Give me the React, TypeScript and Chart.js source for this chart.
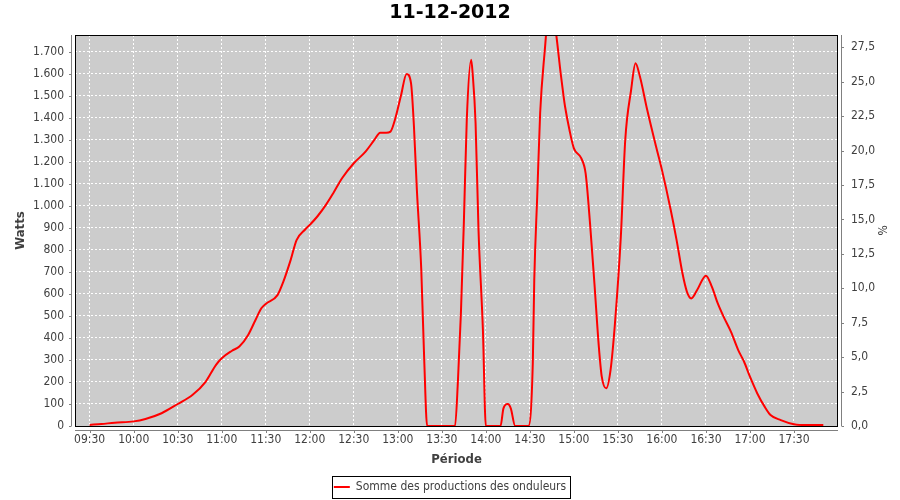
import React, { useEffect, useRef } from 'react';
import { Chart, registerables } from 'chart.js';

Chart.register(...registerables);

const TITLE = '11-12-2012';
const SERIES_LABEL = 'Somme des productions des onduleurs';
const X_TITLE = 'Période';
const Y_TITLE = 'Watts';
const Y2_TITLE = '%';

const times = [
  '09:30', '09:38', '09:47', '10:00', '10:08', '10:19', '10:30', '10:40', '10:49', '10:56',
  '11:00', '11:07', '11:12', '11:18', '11:23', '11:27', '11:30', '11:38', '11:42', '11:47',
  '11:51', '11:57', '12:00', '12:05', '12:11', '12:16', '12:22', '12:30', '12:38', '12:44',
  '12:48', '12:52', '12:55', '12:58', '13:02', '13:06', '13:09', '13:11', '13:13', '13:16',
  '13:18', '13:20', '13:39', '13:41', '13:43', '13:45', '13:47', '13:50', '13:51', '13:53',
  '13:55', '13:58', '14:00', '14:10', '14:12', '14:15', '14:17', '14:20', '14:29', '14:32',
  '14:33', '14:35', '14:37', '14:40', '14:44', '14:48', '14:51', '14:53', '14:54', '14:57',
  '15:00', '15:05', '15:08', '15:11', '15:14', '15:17', '15:19', '15:22', '15:25', '15:28',
  '15:32', '15:35', '15:39', '15:42', '15:45', '15:50', '15:56', '16:00', '16:06', '16:10',
  '16:14', '16:17', '16:20', '16:24', '16:30', '16:34', '16:38', '16:42', '16:47', '16:52',
  '16:56', '17:00', '17:05', '17:10', '17:14', '17:21', '17:30', '17:39', '17:50',
];

const watts = [
  5, 9, 15, 21, 32, 58, 100, 141, 201, 277,
  308, 342, 361, 414, 482, 535, 555, 595, 656, 755,
  845, 894, 914, 951, 1005, 1058, 1126, 1194, 1247, 1300,
  1333, 1333, 1338, 1391, 1497, 1600, 1558, 1361, 1073, 709,
  300, 0, 0, 209, 512, 921, 1391, 1664, 1603, 1376,
  891, 436, 0, 0, 80, 100, 80, 0, 0, 285,
  664, 1042, 1421, 1694, 1950, 1777, 1603, 1497, 1451, 1345,
  1262, 1217, 1148, 921, 648, 361, 224, 171, 255, 467,
  861, 1300, 1527, 1649, 1588, 1436, 1270, 1164, 982, 845,
  694, 611, 580, 618, 683, 633, 558, 497, 429, 345,
  292, 224, 148, 88, 50, 27, 8, 4, 4,
];

const xTickLabels = [
  '09:30', '10:00', '10:30', '11:00', '11:30', '12:00', '12:30', '13:00', '13:30',
  '14:00', '14:30', '15:00', '15:30', '16:00', '16:30', '17:00', '17:30',
];

const X_MIN = '09:20';
const X_MAX = '18:00';
const WATTS_MAX = 1777;
const WATTS_STEP = 100;
const PERCENT_MAX = 28.39;
const PERCENT_STEP = 2.5;

const SANS = "'DejaVu Sans Condensed', 'DejaVu Sans', sans-serif";
const TEXT = '#404040';

const toMin = (s: string) => {
  const [h, m] = s.split(':').map(Number);
  return h * 60 + m;
};
const fmtTime = (v: number) => {
  const h = Math.floor(v / 60);
  const m = Math.round(v % 60);
  return `${String(h).padStart(2, '0')}:${String(m).padStart(2, '0')}`;
};
const fmtWatts = (v: number) => {
  const n = Math.round(v);
  if (n >= 1000) return `${Math.floor(n / 1000)}.${String(n % 1000).padStart(3, '0')}`;
  return String(n);
};
const fmtPercent = (v: number) => v.toFixed(1).replace('.', ',');

const chromePlugin = {
  id: 'chrome',
  beforeDraw(chart: any) {
    const { ctx, chartArea: a } = chart;
    ctx.save();
    ctx.fillStyle = '#ffffff';
    ctx.fillRect(0, 0, chart.width, chart.height);
    ctx.fillStyle = '#cccccc';
    ctx.fillRect(a.left, a.top, a.right - a.left, a.bottom - a.top);
    ctx.restore();
  },
  afterDraw(chart: any) {
    const { ctx, chartArea: a, scales } = chart;
    const L = Math.round(a.left);
    const R = Math.round(a.right);
    const T = Math.round(a.top);
    const B = Math.round(a.bottom);
    ctx.save();
    ctx.lineWidth = 1;
    ctx.strokeStyle = '#808080';
    ctx.beginPath();
    const by = B + 4.5;
    ctx.moveTo(L, by);
    ctx.lineTo(R, by);
    scales.x.ticks.forEach((t: any) => {
      const px = Math.round(scales.x.getPixelForValue(t.value)) + 0.5;
      ctx.moveTo(px, by);
      ctx.lineTo(px, by + 2.5);
    });
    const lx = L - 3.5;
    ctx.moveTo(lx, T);
    ctx.lineTo(lx, B);
    scales.y.ticks.forEach((t: any) => {
      const py = Math.round(scales.y.getPixelForValue(t.value)) + 0.5;
      ctx.moveTo(lx - 2.5, py);
      ctx.lineTo(lx, py);
    });
    const rx = R + 3.5;
    ctx.moveTo(rx, T);
    ctx.lineTo(rx, B);
    scales.y1.ticks.forEach((t: any) => {
      const py = Math.round(scales.y1.getPixelForValue(t.value)) + 0.5;
      ctx.moveTo(rx, py);
      ctx.lineTo(rx + 2.5, py);
    });
    ctx.stroke();

    ctx.strokeStyle = '#000000';
    ctx.strokeRect(L + 0.5, T + 0.5, R - L - 1, B - T);

    const hb = chart.legend && chart.legend.legendHitBoxes && chart.legend.legendHitBoxes[0];
    if (hb) {
      ctx.strokeRect(
        Math.round(hb.left - 2) + 0.5,
        Math.round(hb.top - 5) + 0.5,
        Math.round(hb.width + 6),
        Math.round(hb.height + 10)
      );
    }
    ctx.restore();
  },
};

export default function App() {
  const ref = useRef<HTMLCanvasElement>(null);

  useEffect(() => {
    document.body.style.margin = '0';
    const canvas = ref.current;
    if (!canvas) return;
    const chart = new Chart(canvas, {
      type: 'line',
      data: {
        datasets: [
          {
            label: SERIES_LABEL,
            data: times.map((t, i) => ({ x: toMin(t), y: watts[i] })),
            borderColor: '#ff0000',
            backgroundColor: '#ff0000',
            borderWidth: 2,
            pointRadius: 0,
            cubicInterpolationMode: 'monotone',
            clip: 0,
            yAxisID: 'y',
          } as any,
        ],
      },
      options: {
        responsive: false,
        animation: false,
        devicePixelRatio: 1,
        layout: { padding: { left: 0, right: 0, top: 0, bottom: -3 } },
        plugins: {
          title: {
            display: true,
            text: TITLE,
            color: '#000000',
            font: { family: 'DejaVu Sans', weight: 'bold', size: 19 },
            padding: { top: 2, bottom: 10.2 },
          },
          legend: {
            position: 'bottom',
            labels: {
              usePointStyle: true,
              pointStyle: 'line',
              pointStyleWidth: 16,
              padding: 6,
              color: TEXT,
              font: { family: SANS, size: 12 },
            },
          },
          tooltip: { enabled: false },
        },
        scales: {
          x: {
            type: 'linear',
            min: toMin(X_MIN),
            max: toMin(X_MAX),
            afterBuildTicks: (s: any) => {
              s.ticks = xTickLabels.map((l) => ({ value: toMin(l) }));
            },
            afterFit: (s: any) => {
              s.height = 49;
            },
            ticks: {
              callback: (v: any) => fmtTime(Number(v)),
              padding: 7,
              color: TEXT,
              font: { family: SANS, size: 12 },
              maxRotation: 0,
              autoSkip: false,
            },
            grid: { color: '#ffffff', lineWidth: 1, drawTicks: false },
            border: { display: false, dash: [2, 2] },
            title: {
              display: true,
              text: X_TITLE,
              color: TEXT,
              font: { family: SANS, weight: 'bold', size: 13 },
              padding: { top: 0, bottom: 7.2 },
            },
          },
          y: {
            position: 'left',
            min: 0,
            max: WATTS_MAX,
            afterFit: (s: any) => {
              s.width = 75;
            },
            ticks: {
              stepSize: WATTS_STEP,
              includeBounds: false,
              padding: 11,
              color: TEXT,
              font: { family: SANS, size: 12 },
              callback: (v: any) => fmtWatts(Number(v)),
            },
            grid: { color: '#ffffff', lineWidth: 1, drawTicks: false },
            border: { display: false, dash: [2, 2] },
            title: {
              display: true,
              text: Y_TITLE,
              color: TEXT,
              font: { family: SANS, weight: 'bold', size: 13 },
              padding: { top: 13, bottom: 0 },
            },
          },
          y1: {
            position: 'right',
            min: 0,
            max: PERCENT_MAX,
            afterFit: (s: any) => {
              s.width = 62;
            },
            ticks: {
              stepSize: PERCENT_STEP,
              includeBounds: false,
              padding: 13,
              color: TEXT,
              font: { family: SANS, size: 12 },
              callback: (v: any) => fmtPercent(Number(v)),
            },
            grid: { display: false, drawTicks: false },
            border: { display: false },
            title: {
              display: true,
              text: Y2_TITLE,
              color: TEXT,
              font: { family: SANS, size: 12 },
              padding: { top: 11.8, bottom: 0 },
            },
          },
        },
      } as any,
      plugins: [chromePlugin],
    });
    return () => chart.destroy();
  }, []);

  return (
    <div style={{ width: 900, height: 500 }}>
      <canvas ref={ref} width={900} height={500} style={{ display: 'block' }} />
    </div>
  );
}
